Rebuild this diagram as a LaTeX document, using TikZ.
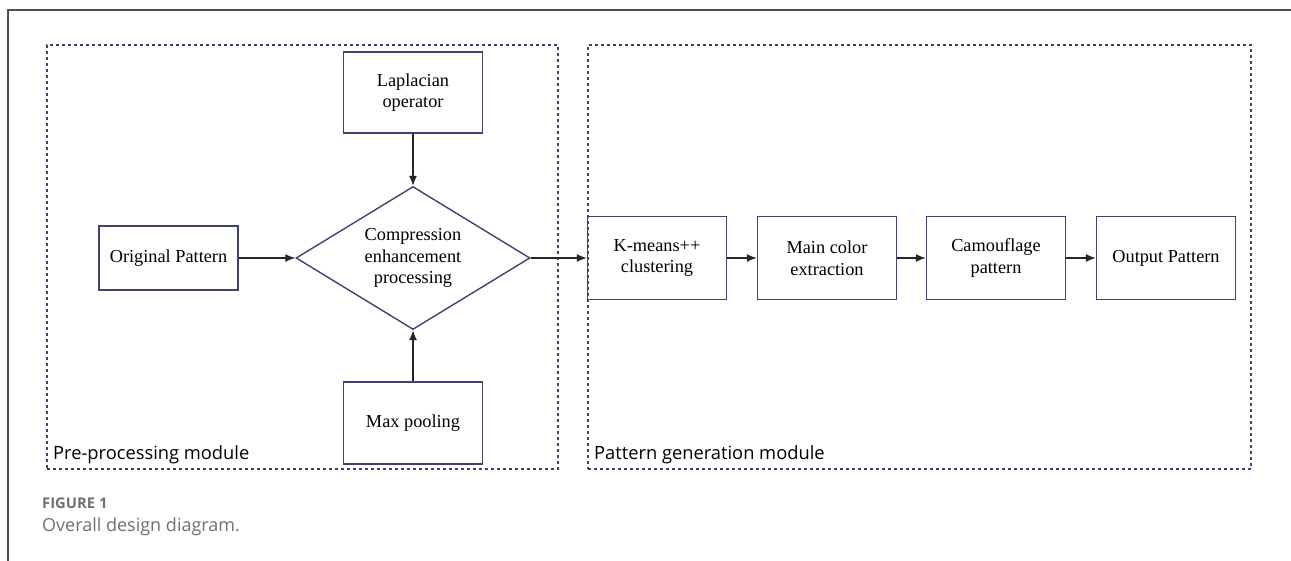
\documentclass[tikz,border=0pt]{standalone}
\usepackage{fontspec}
\setmainfont{Liberation Serif}
\newfontfamily\labelfont{Open Sans}
\usetikzlibrary{shapes.geometric, arrows.meta, positioning}
\definecolor{boxnavy}{RGB}{62, 67, 112}
\definecolor{arrowgray}{RGB}{38, 38, 38}
\definecolor{capgray}{RGB}{112, 112, 112}
\definecolor{framegray}{RGB}{80, 80, 80}

\begin{document}
\begin{tikzpicture}[x=1pt, y=-1pt,
  procbox/.style={draw=boxnavy, line width=1.4pt, minimum width=139pt, minimum height=83pt,
    align=center, inner sep=2pt, font=\fontsize{18.3}{21.5}\selectfont},
  modbox/.style={draw=boxnavy, line width=1.5pt, dash pattern=on 3pt off 3pt, inner sep=0pt,
    minimum height=424pt},
  modlabel/.style={anchor=base west, inner sep=0pt, font=\labelfont\fontsize{18.3}{21}\selectfont},
  flow/.style={-{Latex[length=10pt, width=8pt]}, line width=1.3pt, arrowgray}]
  \useasboundingbox (0,0) rectangle (1291,561);

  % Page frame
  \draw[framegray, line width=1.5pt] (1291,10) -- (8,10) -- (8,561);

  % Modules
  \node[modbox, minimum width=511pt] (premod) at (302.5,257) {};
  \node[modbox, minimum width=663pt] (genmod) at (919.5,257) {};
  \node[modlabel] (prelabel) at (53,459) {Pre-processing module};
  \node[modlabel] (genlabel) at (594,459) {Pattern generation module};

  % Pre-processing
  \node[procbox, minimum height=64pt] (orig) at (168.5,258) {Original Pattern};
  \node[procbox, minimum height=81pt] (lap) at (413,92.5) {Laplacian\\operator};
  \node[procbox, minimum height=82pt] (pool) at (413,423) {Max pooling};
  \node[diamond, aspect=1.64, draw=boxnavy, line width=1.4pt, minimum width=234pt,
    minimum height=143pt, inner sep=0pt, align=center,
    font=\fontsize{18.3}{21.5}\selectfont] (comp) at (413,258) {Compression\\enhancement\\processing};

  % Pattern generation
  \node[procbox] (kmeans) at (657,258) {K-means++\\clustering};
  \node[procbox] (maincol) at (827,258) {Main color\\extraction};
  \node[procbox] (camo) at (996,258) {Camouflage\\pattern};
  \node[procbox] (outpat) at (1166,258) {Output Pattern};

  % Flow
  \draw[flow] (orig.east) -- (comp.west);
  \draw[flow] (lap.south) -- (comp.north);
  \draw[flow] (pool.north) -- (comp.south);
  \draw[flow] (comp.east) -- (kmeans.west);
  \draw[flow] (kmeans) -- (maincol);
  \draw[flow] (maincol) -- (camo);
  \draw[flow] (camo) -- (outpat);

  % Caption
  \node[anchor=base west, inner sep=0pt, text=capgray, font=\labelfont\bfseries\fontsize{14.8}{17}\selectfont] (fignum) at (42,508) {FIGURE 1};
  \node[anchor=base west, inner sep=0pt, text=capgray, font=\labelfont\fontsize{18}{21}\selectfont] (figcap) at (42,531) {Overall design diagram.};
\end{tikzpicture}
\end{document}
